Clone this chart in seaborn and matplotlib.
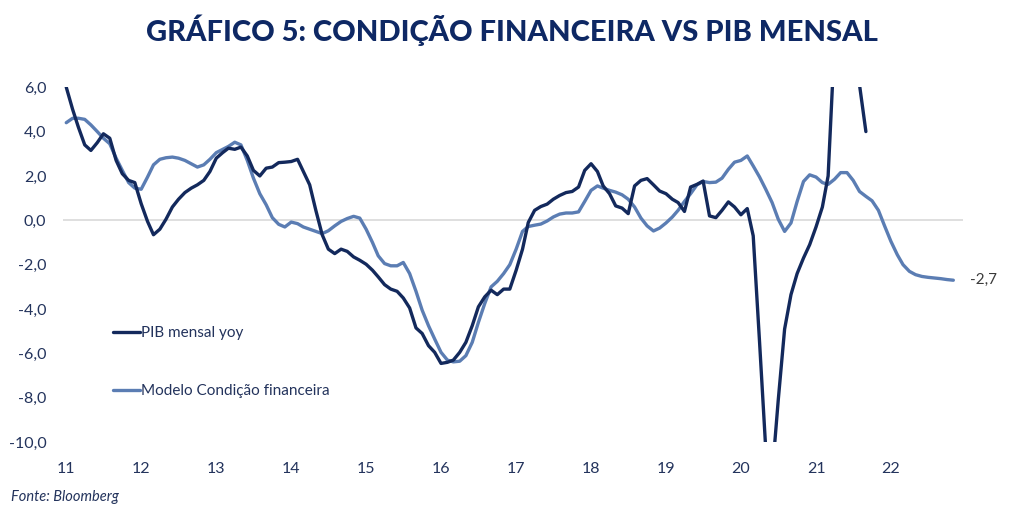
import matplotlib
matplotlib.use("Agg")
import matplotlib.pyplot as plt
import seaborn as sns
import pandas as pd

# ---- data ----
pib_start = "2011-01-01"
pib_values = [6.0, 5.0, 4.2, 3.4, 3.15, 3.5, 3.9, 3.7, 2.7, 2.1, 1.8, 1.7,
              0.75, -0.05, -0.65, -0.4, 0.05, 0.6, 0.95, 1.25, 1.45, 1.6, 1.8, 2.2,
              2.8, 3.05, 3.25, 3.2, 3.3, 2.9, 2.25, 2.0, 2.35, 2.4, 2.6, 2.62,
              2.65, 2.75, 2.2, 1.6, 0.45, -0.65, -1.3, -1.5, -1.3, -1.4, -1.65, -1.8,
              -1.98, -2.25, -2.55, -2.9, -3.1, -3.2, -3.5, -3.95, -4.85, -5.1, -5.65, -5.95,
              -6.45, -6.4, -6.3, -5.95, -5.5, -4.75, -3.9, -3.45, -3.15, -3.35, -3.1, -3.1,
              -2.25, -1.3, -0.1, 0.45, 0.62, 0.73, 0.95, 1.12, 1.25, 1.3, 1.5, 2.25,
              2.55, 2.2, 1.55, 1.2, 0.65, 0.55, 0.3, 1.55, 1.8, 1.88, 1.6, 1.32,
              1.2, 0.95, 0.8, 0.4, 1.5, 1.62, 1.77, 0.2, 0.12, 0.45, 0.83, 0.6,
              0.25, 0.53, -0.7, -5.5, -10.3, -11.5, -8.1, -4.9, -3.35, -2.4, -1.7, -1.1,
              -0.3, 0.6, 2.0, 8.0, 14.5, 13.5, 9.5, 6.1, 4.0]

modelo_start = "2011-01-01"
modelo_values = [4.4, 4.6, 4.6, 4.55, 4.3, 4.0, 3.7, 3.45, 2.8, 2.25, 1.7, 1.45,
                 1.4, 1.95, 2.5, 2.75, 2.82, 2.85, 2.8, 2.7, 2.55, 2.4, 2.5, 2.75,
                 3.05, 3.2, 3.33, 3.52, 3.4, 2.7, 1.9, 1.2, 0.7, 0.12, -0.18, -0.3,
                 -0.08, -0.15, -0.3, -0.4, -0.5, -0.6, -0.47, -0.25, -0.05, 0.08, 0.18, 0.1,
                 -0.4, -1.0, -1.6, -1.95, -2.05, -2.05, -1.9, -2.4, -3.2, -4.05, -4.75, -5.35,
                 -5.95, -6.3, -6.38, -6.35, -6.1, -5.5, -4.6, -3.75, -3.0, -2.75, -2.4, -2.0,
                 -1.3, -0.5, -0.28, -0.22, -0.17, -0.03, 0.15, 0.28, 0.33, 0.33, 0.38, 0.85,
                 1.35, 1.55, 1.45, 1.35, 1.27, 1.15, 0.95, 0.6, 0.1, -0.25, -0.48, -0.35,
                 -0.12, 0.15, 0.45, 0.85, 1.2, 1.6, 1.75, 1.7, 1.72, 1.9, 2.3, 2.62,
                 2.7, 2.9, 2.45, 1.95, 1.4, 0.8, 0.05, -0.5, -0.12, 0.85, 1.75, 2.05,
                 1.95, 1.7, 1.62, 1.85, 2.15, 2.15, 1.8, 1.3, 1.08, 0.88, 0.45, -0.25,
                 -0.95, -1.55, -2.0, -2.3, -2.45, -2.53, -2.57, -2.6, -2.63, -2.67, -2.7]

series_names = ["PIB mensal yoy", "Modelo Condição financeira"]
year_ticks = list(range(2011, 2023))
y_ticks = [6, 4, 2, 0, -2, -4, -6, -8, -10]

title = "GRÁFICO 5: CONDIÇÃO FINANCEIRA VS PIB MENSAL"
source = "Fonte: Bloomberg"

# ---- frames ----
pib_df = pd.DataFrame({"date": pd.date_range(pib_start, periods=len(pib_values), freq="MS"),
                       "value": pib_values})
mod_df = pd.DataFrame({"date": pd.date_range(modelo_start, periods=len(modelo_values), freq="MS"),
                       "value": modelo_values})

navy = "#13295c"
light = "#5b7db3"
text_c = "#23335c"

sns.set_theme(style="white")
plt.rcParams["font.family"] = ["Lato", "DejaVu Sans"]

fig = plt.figure(figsize=(10.24, 5.19), dpi=100)
ax = fig.add_axes([0.0615, 0.148, 0.8785, 0.684])

ax.axhline(0, color="#dcdcdc", lw=1.3, zorder=1)
sns.lineplot(data=pib_df, x="date", y="value", ax=ax, color=navy, lw=2.4,
             label=series_names[0], zorder=3)
sns.lineplot(data=mod_df, x="date", y="value", ax=ax, color=light, lw=2.4,
             label=series_names[1], zorder=2)

ax.set_ylim(-10, 6)
ax.set_xlim(pd.Timestamp("2010-12-16"), pd.Timestamp("2022-12-16"))
ax.set_yticks(y_ticks)
ax.set_yticklabels([f"{v:.1f}".replace(".", ",") for v in y_ticks])
ax.set_xticks([pd.Timestamp(f"{y}-01-01") for y in year_ticks])
ax.set_xticklabels([str(y)[2:] for y in year_ticks])
ax.tick_params(axis="both", length=0, labelsize=11.5, colors=text_c)
ax.tick_params(axis="y", pad=12)
ax.tick_params(axis="x", pad=14)
ax.set_xlabel("")
ax.set_ylabel("")
for s in ax.spines.values():
    s.set_visible(False)

leg = ax.legend(loc="center left", bbox_to_anchor=(0.0556, 0.225), frameon=False,
                fontsize=11, handlelength=1.75, handletextpad=0.08,
                labelspacing=2.9, labelcolor=text_c, borderpad=0, borderaxespad=0)

last = mod_df.iloc[-1]
ax.annotate(f"{last['value']:.1f}".replace(".", ","), xy=(last["date"], last["value"]),
            xytext=(12, 0), textcoords="offset points", va="center", ha="left",
            fontsize=11, color="#3a3a3a", annotation_clip=False)

fig.text(0.5, 0.942, title, ha="center", va="center", fontsize=21,
         fontweight="black", color="#0e2864")
fig.text(0.011, 0.042, source, ha="left", va="center", fontsize=10.5,
         style="italic", color=text_c)

fig.savefig("out.png", dpi=100)
